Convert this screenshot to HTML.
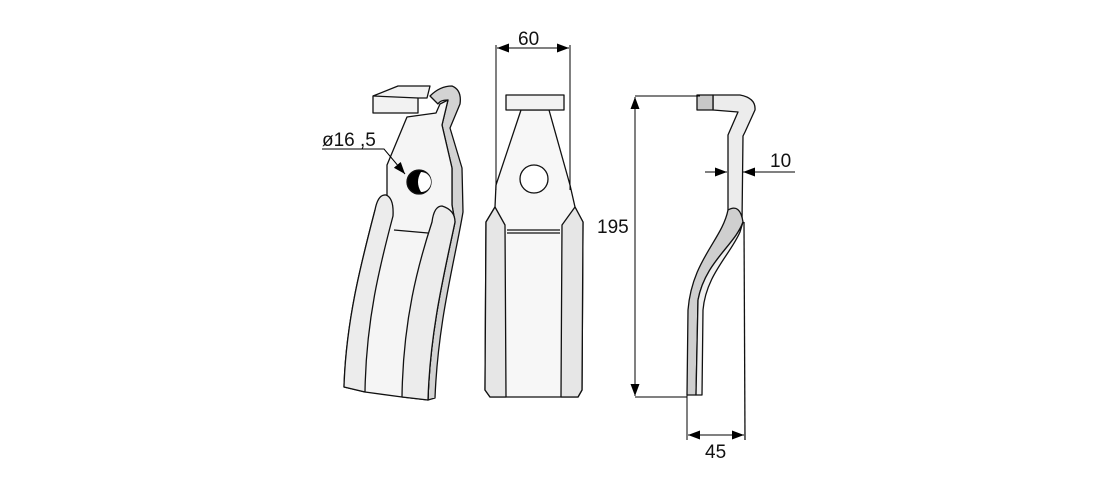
<!DOCTYPE html>
<html><head><meta charset="utf-8"><style>
html,body{margin:0;padding:0;background:#fff;width:1116px;height:489px;overflow:hidden}
svg{display:block}
text{font-family:"Liberation Sans",sans-serif;font-size:19px;fill:#111}
</style></head><body>
<svg width="1116" height="489" viewBox="0 0 1116 489" xmlns="http://www.w3.org/2000/svg">
<defs>
<marker id="a" viewBox="0 0 12 10" refX="12" refY="5" markerWidth="12" markerHeight="10" orient="auto-start-reverse" markerUnits="userSpaceOnUse"><path d="M0,0.5 L12,5 L0,9.5 z" fill="#000"/></marker>
</defs>
<g stroke="#111" stroke-width="1.3" stroke-linejoin="round" fill="none">
<!-- LEFT VIEW -->
<path d="M430,96 Q440,86 452,86 Q462,90 460,104 L450,128 L462,168 L463,212 C455,260 438,320 435,398 L428,400 C430,330 445,270 455,222 L452,205 L452,168 L442,125 L448,100 Q440,100 438,104 Z" fill="#d3d3d3"/>
<path d="M407,117 L436,113 L440,104 L448,100 L442,125 L452,168 L452,205 L455,222 C445,270 430,330 428,400 L402,397 L365,392 L344,387 C346,320 362,260 375,210 L387,198 L387,165 Z" fill="#f5f5f5"/>
<path d="M375,210 Q378,194 386,195 Q394,198 393,216 C380,265 366,320 365,392 L344,387 C346,320 362,260 375,210 Z" fill="#ececec"/>
<path d="M432,222 Q434,206 442,206 Q455,210 455,222 C445,270 430,330 428,400 L402,397 C403,320 418,265 432,222 Z" fill="#ececec"/>
<path d="M394,230 L428,233"/>
<path d="M373,96 L398,86 L430,86 L427,98 L418,98 L418,113 L373,113 Z" fill="#f2f2f2"/>
<path d="M373,96 L418,98"/>
<circle cx="419" cy="182" r="12" fill="#000"/>
<path d="M421,172 A10,10 0 0 1 421,192 Q415,182 421,172 Z" fill="#fff" stroke="none"/>
<!-- MIDDLE VIEW -->
<path d="M521,110 L549,110 L570,185 L575,207 L583,222 L582,390 L578,397 L490,397 L485,390 L486,222 L495,207 L496,185 Z" fill="#f7f7f7"/>
<path d="M495,207 L486,222 L485,390 L490,397 L506,397 L505,225 Z" fill="#e6e6e6"/>
<path d="M575,207 L583,222 L582,390 L578,397 L561,397 L562,225 Z" fill="#e6e6e6"/>
<path d="M507,230 L560,230 M507,233 L560,233"/>
<rect x="506" y="95" width="58" height="15" fill="#f2f2f2"/>
<circle cx="534" cy="179" r="14" fill="#fff"/>
<!-- RIGHT VIEW -->
<path d="M713,95 L740,95 Q756,98 755,110 L745,132 L743,136 L742,222 L728,210 L728,135 L738,112 L713,110 Z" fill="#ececec"/>
<rect x="697" y="95" width="16" height="15" fill="#c8c8c8"/>
<path d="M728,210 Q740,203 743,222 C735,245 705,262 698,300 L696,395 L687,395 L688,310 C692,260 722,240 728,210 Z" fill="#cfcfcf"/>
<path d="M743,222 L740,232 C730,255 706,275 703,310 L702,395 L696,395 L698,300 C705,262 735,245 743,222 Z" fill="#f0f0f0"/>
<path d="M744,222 L745,440"/>
</g>
<!-- dimensions -->
<g stroke="#000" stroke-width="1" fill="none">
<path d="M496,45 L496,190 M570,45 L570,190"/>
<path d="M497,48 L569,48" marker-start="url(#a)" marker-end="url(#a)"/>
<path d="M635,96 L700,96 M635,397 L687,397"/>
<path d="M635,97 L635,396" marker-start="url(#a)" marker-end="url(#a)"/>
<path d="M705,172 L727,172" marker-end="url(#a)"/>
<path d="M795,172 L743,172" marker-end="url(#a)"/>
<path d="M687,395 L687,440"/>
<path d="M688,435 L744,435" marker-start="url(#a)" marker-end="url(#a)"/>
<path d="M322,149 L384,149 L405,174" marker-end="url(#a)"/>
</g>
<text x="518" y="45">60</text>
<text x="597" y="233">195</text>
<text x="770" y="167">10</text>
<text x="705" y="458">45</text>
<text x="322" y="146">ø16 ,5</text>
</svg>
</body></html>
